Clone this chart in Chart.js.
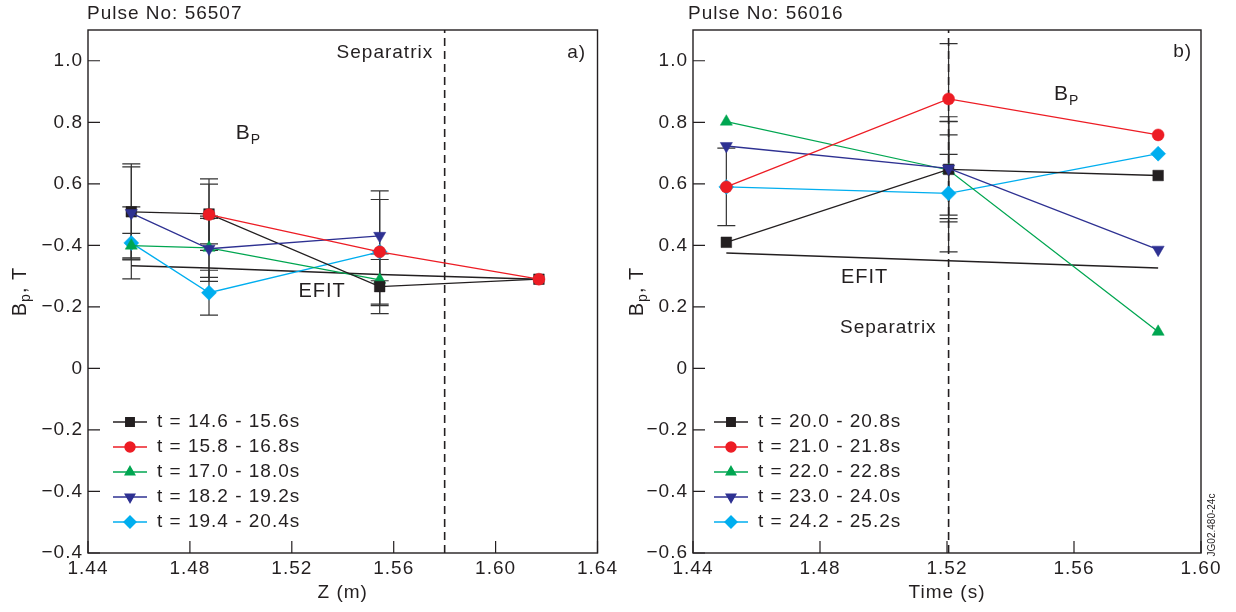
<!DOCTYPE html>
<html>
<head>
<meta charset="utf-8">
<title>Bp profiles</title>
<script src="https://cdn.jsdelivr.net/npm/chart.js@4.4.1/dist/chart.umd.min.js"></script>
<style>
  html, body { margin: 0; padding: 0; background: #fff; }
  #wrap { position: relative; width: 1236px; height: 612px; }
  .panel { position: absolute; top: 0; height: 612px; }
  #panelA { left: 0; width: 620px; }
  #panelB { left: 620px; width: 616px; }
</style>
</head>
<body>
<div id="wrap">
  <div class="panel" id="panelA"><canvas id="chartA"></canvas></div>
  <div class="panel" id="panelB"><canvas id="chartB"></canvas></div>
</div>
<script>
/* ── Panel a) : Pulse No 56507, Bp vs Z ─────────────── */
const zA = [1.457, 1.4875, 1.5545, 1.617];
const labelsA = ['t = 14.6 - 15.6s', 't = 15.8 - 16.8s', 't = 17.0 - 18.0s', 't = 18.2 - 19.2s', 't = 19.4 - 20.4s'];
const bpA1 = [0.509, 0.502, 0.266, 0.290];
const bpA2 = [null, 0.500, 0.379, 0.290];
const bpA3 = [0.399, 0.392, 0.288, null];
const bpA4 = [0.505, 0.389, 0.431, null];
const bpA5 = [0.408, 0.246, 0.379, null];
const errA1 = [0.156, 0.097, 0.088, null];
const errA2 = [null, 0.116, 0.170, null];
const errA3 = [0.040, 0.096, 0.084, null];
const errA4 = [0.150, 0.106, 0.146, null];
const errA5 = [0.117, 0.073, null, null];
const efitA = [0.334, 0.326, 0.305, 0.290];
const sepA = 1.58;
const xTicksA = [1.44, 1.48, 1.52, 1.56, 1.60, 1.64];
const yTicksA = [-0.6, -0.4, -0.2, 0, 0.2, 0.4, 0.6, 0.8, 1.0];
const yLabelsA = ['\u22120.4', '\u22120.4', '\u22120.2', '0', '\u22120.2', '\u22120.4', '0.6', '0.8', '1.0'];

/* ── Panel b) : Pulse No 56016, Bp vs time ──────────── */
const tB = [1.4505, 1.5205, 1.5865];
const labelsB = ['t = 20.0 - 20.8s', 't = 21.0 - 21.8s', 't = 22.0 - 22.8s', 't = 23.0 - 24.0s', 't = 24.2 - 25.2s'];
const bpB1 = [0.410, 0.647, 0.627];
const bpB2 = [0.590, 0.876, 0.759];
const bpB3 = [0.802, 0.645, 0.119];
const bpB4 = [0.723, 0.650, 0.386];
const bpB5 = [0.590, 0.569, 0.698];
const errB1 = [null, 0.171, null];
const errB2 = [0.126, 0.180, null];
const errB3 = [null, 0.158, null];
const errB4 = [null, 0.152, null];
const errB5 = [null, 0.190, null];
const efitB = [0.375, 0.350, 0.326];
const sepB = 1.5205;
const xTicksB = [1.44, 1.48, 1.52, 1.56, 1.60];
const yTicksB = [-0.6, -0.4, -0.2, 0, 0.2, 0.4, 0.6, 0.8, 1.0];
const yLabelsB = ['\u22120.6', '\u22120.4', '\u22120.2', '0', '0.2', '0.4', '0.6', '0.8', '1.0'];

/* ── Styles ─────────────────────────────────────────── */
const INK = '#231f20';
const FONT = "'Liberation Sans', Arial, Helvetica, sans-serif";
const SERIES_COLORS = ['#231f20', '#ed1c24', '#00a651', '#2e3192', '#00aeef'];
const POINT_STYLES = ['rect', 'circle', 'triangle', 'triangle', 'rectRot'];
const POINT_ROT = [0, 0, 0, 180, 0];
const POINT_RADIUS = [7.5, 6, 7, 7, 7.5];
const LEGEND_RADIUS = [6, 5, 5.5, 5.5, 6];
const DRAW_ORDER = [2, 0, 3, 1, 4];

Chart.defaults.font.family = FONT;
Chart.defaults.font.size = 19;
Chart.defaults.color = INK;

function buildDatasets(xs, series, errs, efit, sep, yMin, yMax) {
  const sets = series.map((ys, i) => ({
    data: xs.map((x, j) => ({ x, y: ys[j] })),
    err: errs[i],
    borderColor: SERIES_COLORS[i],
    backgroundColor: SERIES_COLORS[i],
    borderWidth: 1.3,
    pointStyle: POINT_STYLES[i],
    rotation: POINT_ROT[i],
    pointRadius: POINT_RADIUS[i],
    pointBorderWidth: 0.5,
    order: DRAW_ORDER[i],
  }));
  sets.push({
    data: xs.map((x, j) => ({ x, y: efit[j] })),
    borderColor: INK, borderWidth: 1.5, pointRadius: 0, order: 10,
  });
  sets.push({
    data: [{ x: sep, y: yMin }, { x: sep, y: yMax }],
    borderColor: INK, borderWidth: 1.6, borderDash: [8, 5], pointRadius: 0, order: 11,
  });
  return sets;
}

/* ── Error bars under the markers ───────────────────── */
const errorBars = {
  id: 'errorBars',
  beforeDraw(chart) { chart.ctx.letterSpacing = '1px'; },
  beforeDatasetsDraw(chart) {
    const { ctx, scales: { x, y } } = chart;
    ctx.save();
    ctx.strokeStyle = '#333';
    ctx.lineWidth = 1.2;
    chart.data.datasets.forEach(ds => {
      if (!ds.err) return;
      ds.data.forEach((p, j) => {
        const e = ds.err[j];
        if (e == null || p.y == null) return;
        const px = x.getPixelForValue(p.x);
        const top = y.getPixelForValue(p.y + e);
        const bot = y.getPixelForValue(p.y - e);
        ctx.beginPath();
        ctx.moveTo(px, top); ctx.lineTo(px, bot);
        ctx.moveTo(px - 9, top); ctx.lineTo(px + 9, top);
        ctx.moveTo(px - 9, bot); ctx.lineTo(px + 9, bot);
        ctx.stroke();
      });
    });
    ctx.restore();
  }
};

function text(ctx, str, x, y, size, align) {
  ctx.font = size + 'px ' + FONT;
  ctx.textAlign = align || 'left';
  ctx.textBaseline = 'middle';
  ctx.fillText(str, x, y);
}

/* ── Frame, inward ticks, labels, legend ────────────── */
function decor(cfg) {
  return {
    id: 'decor',
    afterDraw(chart) {
      const { ctx, chartArea: a, scales: { x, y } } = chart;
      ctx.save();
      ctx.letterSpacing = '1px';
      ctx.strokeStyle = INK;
      ctx.fillStyle = INK;

      // frame
      ctx.lineWidth = 1.4;
      ctx.strokeRect(a.left, a.top, a.right - a.left, a.bottom - a.top);

      // inward tick marks
      ctx.lineWidth = 1.2;
      ctx.beginPath();
      y.ticks.forEach(t => {
        const py = y.getPixelForValue(t.value);
        ctx.moveTo(a.left, py); ctx.lineTo(a.left + 12, py);
      });
      x.ticks.forEach(t => {
        const px = x.getPixelForValue(t.value);
        ctx.moveTo(px, a.bottom); ctx.lineTo(px, a.bottom - 12);
      });
      ctx.stroke();

      // headings and annotations
      text(ctx, cfg.pulse, a.left + cfg.pulseDx, 14, 19);
      text(ctx, cfg.tag[0], x.getPixelForValue(cfg.tag[1]), y.getPixelForValue(cfg.tag[2]), 19, 'right');
      text(ctx, 'Separatrix', x.getPixelForValue(cfg.sepText[0]), y.getPixelForValue(cfg.sepText[1]), 19, cfg.sepText[2]);
      text(ctx, 'EFIT', x.getPixelForValue(cfg.efitText[0]), y.getPixelForValue(cfg.efitText[1]), 20);

      const bx = x.getPixelForValue(cfg.bpText[0]);
      const by = y.getPixelForValue(cfg.bpText[1]);
      text(ctx, 'B', bx, by, 21);
      const bw = ctx.measureText('B').width;
      text(ctx, 'P', bx + bw, by + 7, 14);

      // axis titles
      text(ctx, cfg.xTitle, (a.left + a.right) / 2, 593, 19, 'center');
      ctx.save();
      ctx.translate(a.left + cfg.yTitleDx, (a.top + a.bottom) / 2);
      ctx.rotate(-Math.PI / 2);
      ctx.font = '20px ' + FONT;
      const w1 = ctx.measureText('B').width;
      ctx.font = '14px ' + FONT;
      const w2 = ctx.measureText('p').width;
      ctx.font = '20px ' + FONT;
      const w3 = ctx.measureText(', T').width;
      let sx = -(w1 + w2 + w3) / 2;
      text(ctx, 'B', sx, 0, 20);
      text(ctx, 'p', sx + w1, 6, 14);
      text(ctx, ', T', sx + w1 + w2, 0, 20);
      ctx.restore();

      // legend
      cfg.labels.forEach((lab, i) => {
        const ly = a.bottom - 131 + i * 25;
        const lx = a.left + cfg.legendDx;
        ctx.strokeStyle = SERIES_COLORS[i];
        ctx.fillStyle = SERIES_COLORS[i];
        ctx.lineWidth = 1.4;
        ctx.beginPath();
        ctx.moveTo(lx, ly); ctx.lineTo(lx + 34, ly);
        ctx.stroke();
        Chart.helpers.drawPoint(ctx, {
          pointStyle: POINT_STYLES[i], rotation: POINT_ROT[i],
          radius: LEGEND_RADIUS[i], borderWidth: 0.5,
        }, lx + 17, ly);
        ctx.fillStyle = INK;
        text(ctx, lab, lx + 44, ly, 19);
      });

      if (cfg.code) {
        ctx.save();
        ctx.letterSpacing = '0px';
        ctx.translate(a.right + 11, a.bottom - 28);
        ctx.rotate(-Math.PI / 2);
        text(ctx, cfg.code, 0, 0, 10, 'center');
        ctx.restore();
      }
      ctx.restore();
    }
  };
}

function makeChart(id, opt) {
  const yMin = opt.yTicks[0] , yMax = 1.1;
  return new Chart(document.getElementById(id), {
    type: 'scatter',
    data: { datasets: buildDatasets(opt.xs, opt.series, opt.errs, opt.efit, opt.sep, yMin, yMax) },
    options: {
      responsive: true,
      maintainAspectRatio: false,
      animation: false,
      events: [],
      showLine: true,
      layout: { padding: { left: 0, top: 30, right: opt.padRight, bottom: 0 } },
      plugins: { legend: { display: false }, tooltip: { enabled: false } },
      scales: {
        x: {
          type: 'linear',
          min: opt.xTicks[0], max: opt.xTicks[opt.xTicks.length - 1],
          grid: { display: false, tickLength: 0 },
          border: { display: false },
          afterBuildTicks: s => { s.ticks = opt.xTicks.map(v => ({ value: v })); },
          afterFit: s => { s.height = 59; },
          ticks: { padding: 4, maxRotation: 0, autoSkip: false, callback: v => v.toFixed(2) },
        },
        y: {
          type: 'linear',
          min: yMin, max: yMax,
          grid: { display: false, tickLength: 0 },
          border: { display: false },
          afterBuildTicks: s => { s.ticks = opt.yTicks.map(v => ({ value: v })); },
          afterFit: s => { s.width = opt.yWidth; },
          ticks: { padding: 5, autoSkip: false, callback: (v, i) => opt.yLabels[i] },
        },
      },
    },
    plugins: [errorBars, decor(opt.decor)],
  });
}

makeChart('chartA', {
  xs: zA,
  series: [bpA1, bpA2, bpA3, bpA4, bpA5],
  errs: [errA1, errA2, errA3, errA4, errA5],
  efit: efitA, sep: sepA,
  xTicks: xTicksA, yTicks: yTicksA, yLabels: yLabelsA,
  padRight: 21, yWidth: 88,
  decor: {
    pulse: 'Pulse No: 56507', pulseDx: -1,
    tag: ['a)', 1.6355, 1.027],
    sepText: [1.5755, 1.027, 'right'],
    efitText: [1.5226, 0.25],
    bpText: [1.498, 0.765],
    xTitle: 'Z (m)', yTitleDx: -68,
    labels: labelsA, legendDx: 25,
  },
});

makeChart('chartB', {
  xs: tB,
  series: [bpB1, bpB2, bpB3, bpB4, bpB5],
  errs: [errB1, errB2, errB3, errB4, errB5],
  efit: efitB, sep: sepB,
  xTicks: xTicksB, yTicks: yTicksB, yLabels: yLabelsB,
  padRight: 35, yWidth: 73,
  decor: {
    pulse: 'Pulse No: 56016', pulseDx: -5,
    tag: ['b)', 1.5972, 1.03],
    sepText: [1.4863, 0.131, 'left'],
    efitText: [1.4866, 0.294],
    bpText: [1.5537, 0.892],
    xTitle: 'Time (s)', yTitleDx: -56,
    labels: labelsB, legendDx: 21,
    code: 'JG02.480-24c',
  },
});
</script>
</body>
</html>
